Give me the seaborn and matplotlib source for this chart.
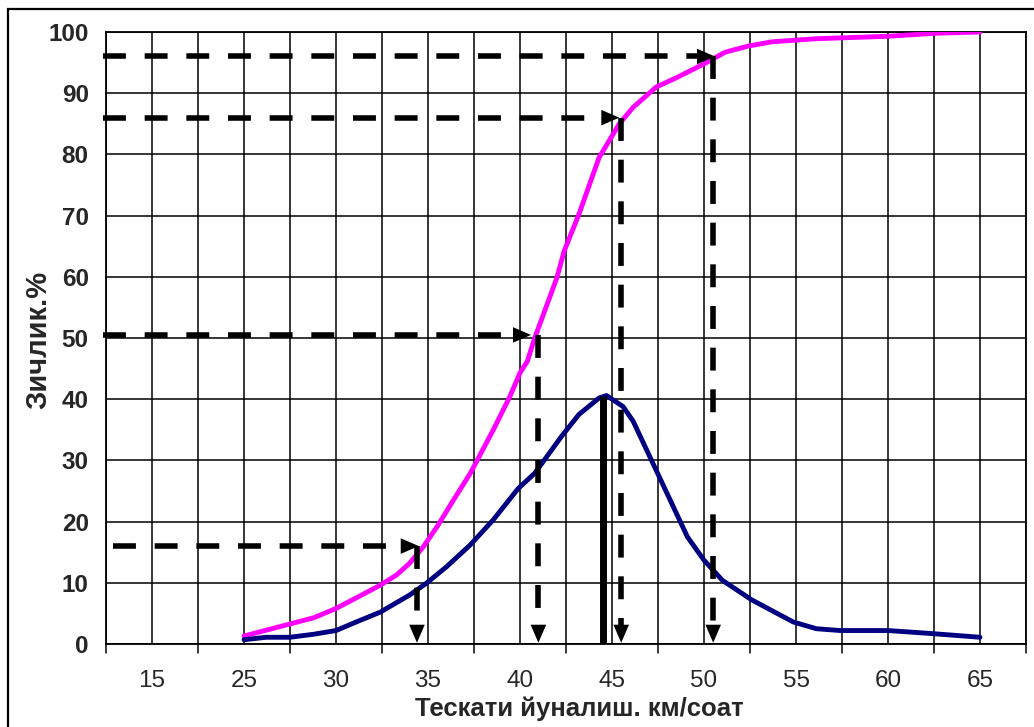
import numpy as np
import pandas as pd
import matplotlib
matplotlib.use("Agg")
import matplotlib.pyplot as plt
import seaborn as sns
from matplotlib.patches import Rectangle

# кумулятивная кривая (розовая)
cum_speed = [25, 28.8, 30, 32.4, 33.3, 34, 34.75, 35.5, 36.4, 37.3, 38.55, 39.46, 40,
             40.4, 40.8, 42, 42.4, 43.2, 44.3, 45.4, 46.15, 47.4, 48.55, 50, 51.15,
             52.4, 53.7, 56.1, 60, 62.6, 65]
cum_pct = [1.3, 4.3, 5.8, 9.6, 11.3, 13.2, 15.9, 19.2, 23.6, 27.9, 35.0, 40.5, 44.3,
           46.2, 50.0, 59.8, 64.2, 70.2, 79.5, 85.0, 87.7, 91.0, 92.6, 94.8, 96.7,
           97.7, 98.4, 98.9, 99.3, 99.8, 100]

# кривая плотности (синяя)
dens_speed = [25, 26.2, 27.5, 28.8, 30, 31.1, 32.4, 34, 34.9, 36, 37.3, 38.55, 39.9,
              40.8, 42.25, 43.2, 44.3, 44.7, 45.6, 46.15, 47.4, 49.1, 50, 51, 52.6,
              54.85, 56.1, 57.4, 60, 62.4, 65]
dens_pct = [0.7, 1.1, 1.1, 1.6, 2.2, 3.6, 5.2, 8.0, 9.9, 12.6, 16.2, 20.3, 25.4,
            27.9, 33.9, 37.5, 40.2, 40.6, 38.8, 36.4, 28.4, 17.5, 13.7, 10.4, 7.2,
            3.6, 2.5, 2.2, 2.2, 1.7, 1.1]

# линии отсчета
guide_level = [16, 50.5, 86, 96]
guide_start = [17.9, 17.35, 17.35, 17.35]
guide_tip = [34.5, 40.6, 45.4, 50.6]
guide_down = [34.4, 41.0, 45.5, 50.5]
mode_speed = 44.5
mode_pct = 40.6

# подписи оси x (категории как в Excel)
tick_pos = [20, 25, 30, 35, 40, 45, 50, 55, 60, 65]
tick_lab = ["15", "25", "30", "35", "40", "45", "50", "55", "60", "65"]

sns.set_style("white")
plt.rcParams["font.family"] = ["Liberation Sans", "DejaVu Sans"]
plt.rcParams["lines.scale_dashes"] = False

fig = plt.figure(figsize=(10.34, 7.27), dpi=100)
ax = fig.add_axes([106/1034, 1-644/727, 920/1034, 612/727])

cum = pd.DataFrame({"v": cum_speed, "p": cum_pct})
dens = pd.DataFrame({"v": dens_speed, "p": dens_pct})
sns.lineplot(data=cum, x="v", y="p", color="#FF00FF", lw=3.5, ax=ax, zorder=4)
sns.lineplot(data=dens, x="v", y="p", color="#000080", lw=3.5, ax=ax, zorder=4)

dash = (16.5, 13.5)
ahead = dict(arrowstyle="-|>,head_length=0.65,head_width=0.28", mutation_scale=20,
             fc="black", ec="black", lw=0, shrinkA=0, shrinkB=0)
for lev, x0, xt, xd in zip(guide_level, guide_start, guide_tip, guide_down):
    # горизонтальная стрелка
    ax.plot([x0, xt - 1.0], [lev, lev], color="black", lw=4, dashes=dash,
            clip_on=False, zorder=5)
    ax.annotate("", xy=(xt, lev), xytext=(xt - 1.0, lev), arrowprops=ahead,
                annotation_clip=False, zorder=6)
    # вертикальная стрелка
    ax.plot([xd, xd], [lev, 2.8], color="black", lw=4, dashes=dash, zorder=5)
    ax.annotate("", xy=(xd, 0.2), xytext=(xd, 3.0), arrowprops=ahead, zorder=6)

ax.plot([mode_speed, mode_speed], [0, mode_pct], color="black", lw=5,
        solid_capstyle="butt", zorder=5)

ax.set_xlim(17.5, 67.5)
ax.set_ylim(0, 100)
ax.set_xticks(tick_pos)
ax.set_xticklabels(tick_lab)
ax.set_yticks(range(0, 101, 10))
ax.set_xticks(np.arange(17.5, 68, 2.5), minor=True)

ax.grid(True, which="both", color="black", lw=1.1)
ax.tick_params(axis="x", which="major", length=0, pad=19, labelsize=17.5)
ax.tick_params(axis="x", which="minor", length=0)
ax.tick_params(axis="y", length=6.5, width=1.1, color="black", pad=6, labelsize=17.5)
for t in ax.get_yticklabels():
    t.set_fontweight("bold")
# засечки по границам категорий
for xb in np.arange(17.5, 68, 5):
    ax.plot([xb, xb], [0, -1.5], color="black", lw=1.1, clip_on=False)

for s in ax.spines.values():
    s.set_color("black")
    s.set_linewidth(1.3)

ax.set_xlabel("Тескати йуналиш. км/соат", fontsize=18.5, fontweight="bold")
ax.set_ylabel("Зичлик.%", fontsize=21, fontweight="bold")
ax.xaxis.set_label_coords(0.514, -0.105)
ax.xaxis.label.set_va("center")
ax.yaxis.set_label_coords(-0.073, 0.497)
ax.yaxis.label.set_va("center")

fig.patches.append(Rectangle((8/1034, -0.1), 1.2, 1 - 9/727 + 0.1,
                             transform=fig.transFigure, fill=False,
                             ec="black", lw=1.6))

fig.savefig("out.png", dpi=100)
